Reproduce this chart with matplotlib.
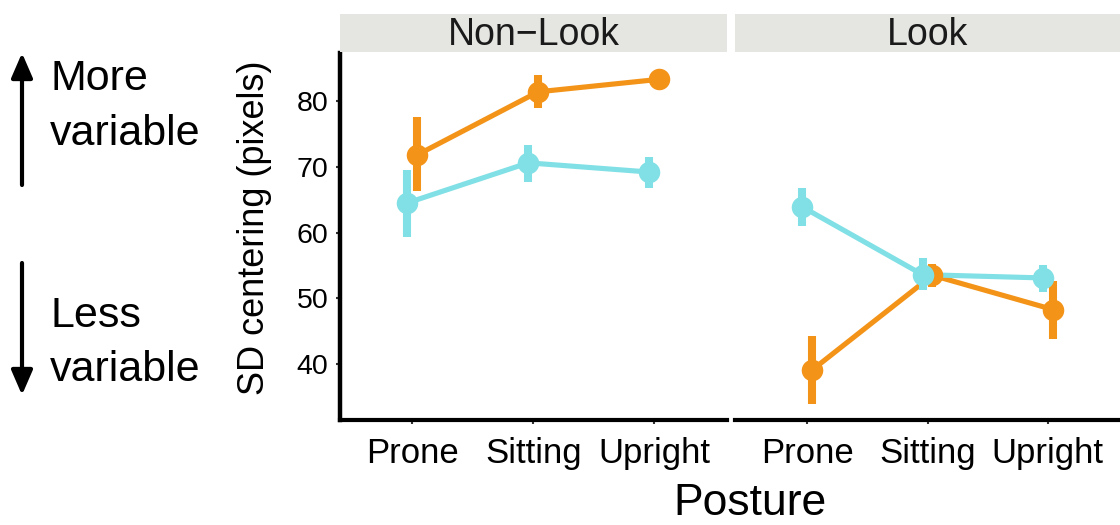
import matplotlib
matplotlib.use("Agg")
import matplotlib.pyplot as plt
from matplotlib.patches import FancyArrowPatch

plt.rcParams['font.family'] = ['Liberation Sans', 'DejaVu Sans']

# ---- data ----
postures = ['Prone', 'Sitting', 'Upright']
panels = ['Non\u2212Look', 'Look']

# orange series
orange_mean = {'Non\u2212Look': [71.8, 81.4, 83.3], 'Look': [39.1, 53.5, 48.3]}
orange_lo   = {'Non\u2212Look': [66.3, 78.9, 82.3], 'Look': [34.0, 51.7, 43.8]}
orange_hi   = {'Non\u2212Look': [77.5, 83.9, 84.3], 'Look': [44.3, 55.2, 52.7]}
# cyan series
cyan_mean = {'Non\u2212Look': [64.5, 70.6, 69.2], 'Look': [63.9, 53.6, 53.1]}
cyan_lo   = {'Non\u2212Look': [59.4, 67.7, 66.8], 'Look': [61.0, 51.3, 50.9]}
cyan_hi   = {'Non\u2212Look': [69.5, 73.3, 71.5], 'Look': [66.7, 56.2, 55.0]}

yticks = [40, 50, 60, 70, 80]

ORANGE = '#F39318'
CYAN = '#80E0E5'
STRIP = '#E5E5E2'

W, H = 1120, 525
fig = plt.figure(figsize=(W / 100, H / 100), dpi=100)

def fx(px):
    return px / W

def fy(py):
    return 1 - py / H

ax_top, ax_bot = 53, 420
panel_x = [(339.5, 727), (735, 1120)]
series = [(orange_mean, orange_lo, orange_hi, ORANGE, 0.041),
          (cyan_mean, cyan_lo, cyan_hi, CYAN, -0.041)]

for i, (pname, (x0, x1)) in enumerate(zip(panels, panel_x)):
    ax = fig.add_axes([fx(x0), fy(ax_bot), fx(x1) - fx(x0), fy(ax_top) - fy(ax_bot)])
    xs = list(range(1, len(postures) + 1))
    # lines first
    for mean, lo, hi, col, off in series:
        ax.plot([x + off for x in xs], mean[pname], color=col, lw=3.7,
                solid_capstyle='butt', zorder=2)
    # point ranges
    for k, (mean, lo, hi, col, off) in enumerate(series):
        xd = [x + off for x in xs]
        ax.vlines(xd, lo[pname], hi[pname], color=col, lw=5.8, zorder=3 + k)
        ax.plot(xd, mean[pname], 'o', color=col, ms=15.5, mec='none', zorder=3 + k)
    ax.set_xlim(0.4, 3.6)
    ax.set_ylim(31.5, 87.3)
    ax.set_xticks(xs)
    ax.set_xticklabels(postures, fontsize=25)
    for s in ['top', 'right']:
        ax.spines[s].set_visible(False)
    ax.spines['bottom'].set_linewidth(3)
    ax.spines['left'].set_linewidth(3.2)
    ax.tick_params(axis='x', length=3, width=1.5, color='#333333', pad=9)
    if i == 0:
        ax.set_yticks(yticks)
        ax.set_yticklabels([str(v) for v in yticks], fontsize=20.5)
        ax.tick_params(axis='y', length=3, width=1.5, color='#333333', pad=5)
    else:
        ax.spines['left'].set_visible(False)
        ax.set_yticks([])
    # strip
    sx0 = 340 if i == 0 else x0
    sax = fig.add_axes([fx(sx0), fy(52), fx(x1) - fx(sx0), fy(14) - fy(52)])
    sax.set_facecolor(STRIP)
    sax.set_xticks([]); sax.set_yticks([])
    for s in sax.spines.values():
        s.set_visible(False)
    sax.text(0.5, 0.45, pname, ha='center', va='center', fontsize=27,
             transform=sax.transAxes, color='#1a1a1a')

# axis titles
fig.text(fx(255), fy(228), 'SD centering (pixels)', rotation=90,
         ha='center', va='center', fontsize=26)
fig.text(fx(750), fy(524), 'Posture', ha='center', va='bottom', fontsize=32)

# side annotations
for txt, base in [('More', 90), ('variable', 145), ('Less', 327), ('variable', 381)]:
    fig.text(fx(50), fy(base), txt, ha='left', va='baseline', fontsize=31)

for (ya, yb) in [(185, 53), (263, 395)]:
    arr = FancyArrowPatch((fx(22), fy(ya)), (fx(22), fy(yb)),
                          transform=fig.transFigure,
                          arrowstyle='-|>,head_length=15,head_width=6.5',
                          mutation_scale=1, lw=3, color='black',
                          shrinkA=0, shrinkB=0)
    fig.add_artist(arr)

fig.savefig('out.png', dpi=100)
